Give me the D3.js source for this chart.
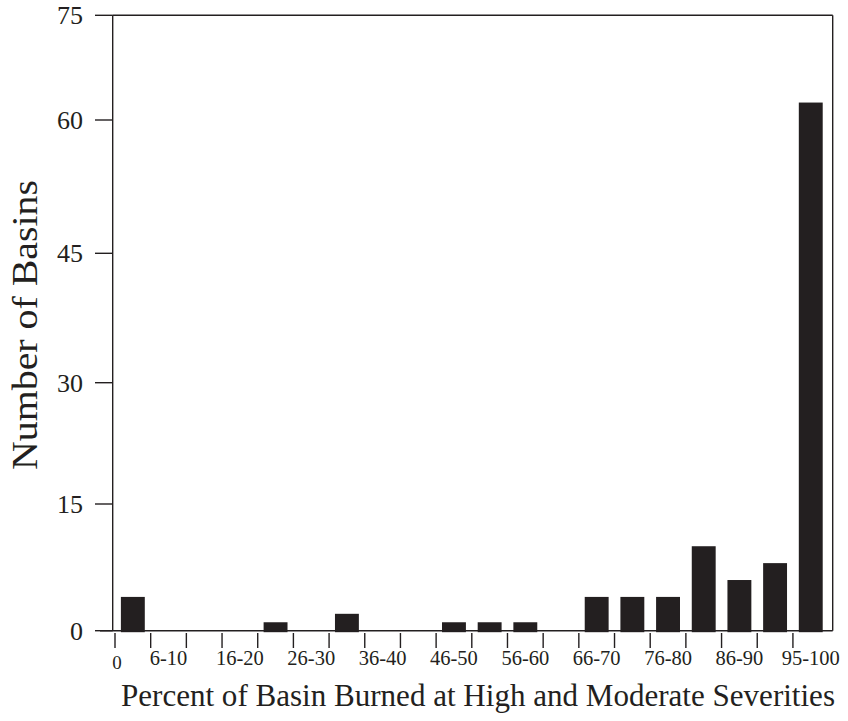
<!DOCTYPE html>
<html>
<head>
<meta charset="utf-8">
<script src="https://cdn.jsdelivr.net/npm/d3@7"></script>
<style>
  html, body { margin: 0; padding: 0; background: #fff; }
  svg { display: block; }
  text { font-family: "Liberation Serif", "Times New Roman", serif; fill: #231f20; }
</style>
</head>
<body>
<svg id="chart" width="848" height="721"></svg>
<script>
// ---- data ----
const bins = ["0-5","6-10","11-15","16-20","21-25","26-30","31-35","36-40","41-45","46-50",
              "51-55","56-60","61-65","66-70","71-75","76-80","81-85","86-90","91-95","95-100"];
const counts = [4,0,0,0,1,0,2,0,0,1,1,1,0,4,4,4,10,6,8,62.5];
const yTicks = [0,15,30,45,60,75];
const xLabels = ["6-10","16-20","26-30","36-40","46-50","56-60","66-70","76-80","86-90","95-100"];
const yTitle = "Number of Basins";
const xTitle = "Percent of Basin Burned at High and Moderate Severities";

(function () {
// ---- layout ----
const svg = d3.select("#chart");
const ink = "#231f20";
const pLeft = 112.7, pRight = 832.7, pTop = 15.3, base = 630.7;
const tick0 = 115, tickEnd = 115 + 20 * 35.68;

const x = d3.scaleBand().domain(bins).range([tick0, tickEnd]).paddingInner(0.33).paddingOuter(0.165);
const xEdge = d3.scaleLinear().domain([0, 20]).range([tick0, tickEnd]);
// the original axis spacing is not uniform; follow its tick positions
const y = d3.scaleLinear().domain(yTicks).range([base, 504, 382.7, 253.3, 120, pTop]);

// bars
svg.append("g").selectAll("rect").data(bins.map((b,i)=>({b, v: counts[i]})).filter(d=>d.v>0))
  .join("rect")
  .attr("x", d => x(d.b))
  .attr("width", x.bandwidth())
  .attr("y", d => y(d.v))
  .attr("height", d => base + 1.5 - y(d.v))
  .attr("fill", ink);

// frame
const fr = svg.append("g").attr("stroke", ink).attr("stroke-width", 1.4).attr("fill", "none");
fr.append("line").attr("x1", pLeft).attr("x2", pLeft).attr("y1", pTop).attr("y2", base);
fr.append("line").attr("x1", pLeft).attr("x2", pRight).attr("y1", pTop).attr("y2", pTop);
fr.append("line").attr("x1", pRight).attr("x2", pRight).attr("y1", pTop).attr("y2", base);
fr.append("line").attr("x1", 100).attr("x2", pRight).attr("y1", base).attr("y2", base);

// y axis ticks + labels
const ya = svg.append("g");
ya.selectAll("line").data(yTicks).join("line")
  .attr("x1", 95).attr("x2", pLeft).attr("y1", d => y(d)).attr("y2", d => y(d))
  .attr("stroke", ink).attr("stroke-width", 1.4);
ya.selectAll("text").data(yTicks).join("text")
  .attr("x", 83).attr("y", d => y(d)).attr("dy", "0.34em")
  .attr("text-anchor", "end").attr("font-size", 26).text(d => d);

// x axis ticks
svg.append("g").selectAll("line").data(d3.range(0, 20)).join("line")
  .attr("x1", d => xEdge(d)).attr("x2", d => xEdge(d))
  .attr("y1", 633).attr("y2", 648)
  .attr("stroke", ink).attr("stroke-width", 1.4);

// x labels
svg.append("text").attr("x", 117).attr("y", 669).attr("text-anchor", "middle")
  .attr("font-size", 19).text("0");
svg.append("g").selectAll("text").data(xLabels).join("text")
  .attr("x", d => x(d) + x.bandwidth() / 2).attr("y", 665)
  .attr("text-anchor", "middle").attr("font-size", 20.5).text(d => d);

// titles
svg.append("text").attr("x", 478).attr("y", 706).attr("text-anchor", "middle")
  .attr("font-size", 31).attr("textLength", 714).attr("lengthAdjust", "spacingAndGlyphs")
  .text(xTitle);
svg.append("text").attr("transform", "translate(37,325) rotate(-90)")
  .attr("text-anchor", "middle").attr("font-size", 35)
  .attr("textLength", 290).attr("lengthAdjust", "spacingAndGlyphs").text(yTitle);
})();
</script>
</body>
</html>
